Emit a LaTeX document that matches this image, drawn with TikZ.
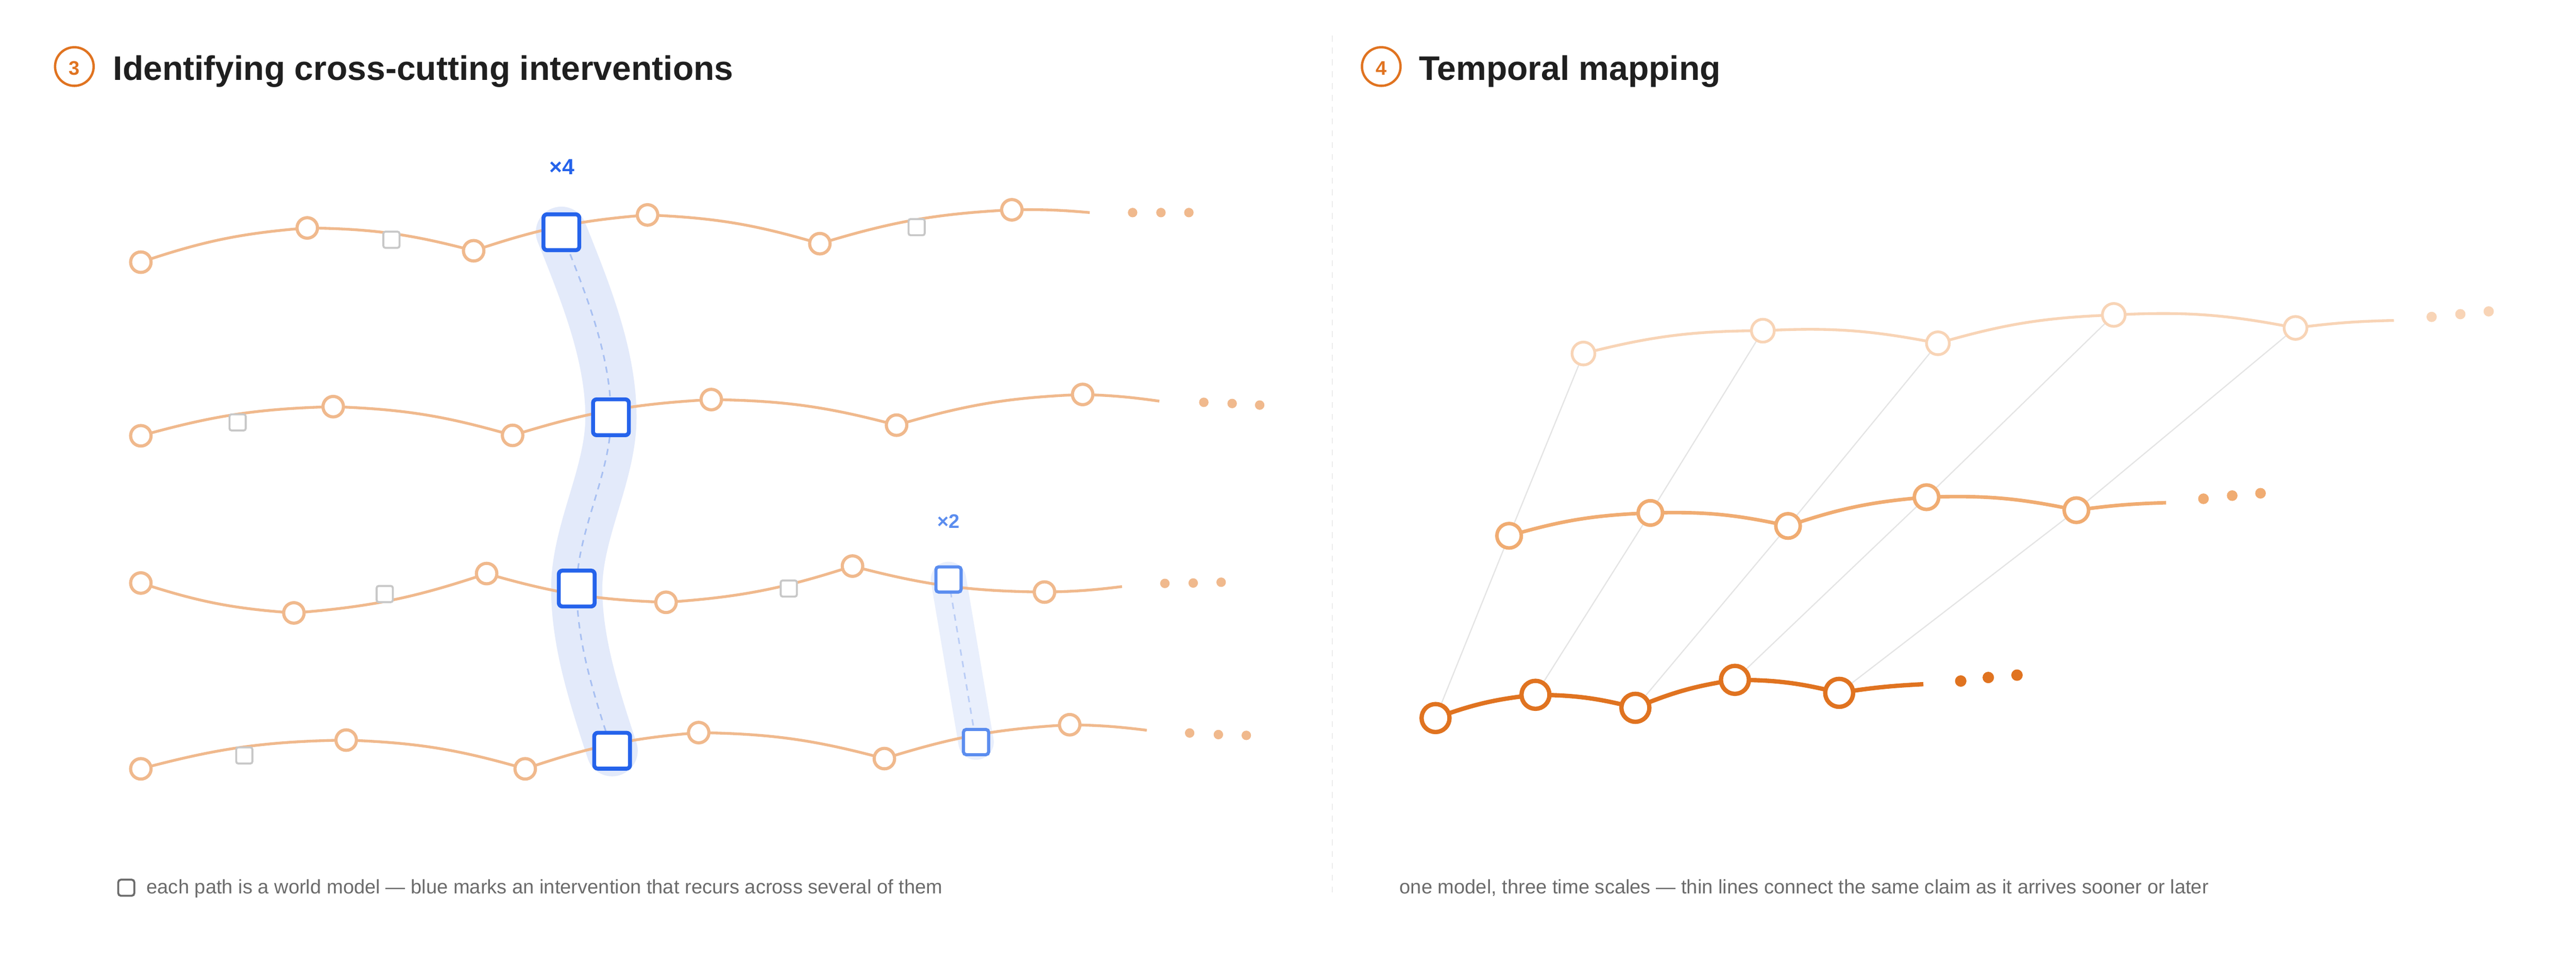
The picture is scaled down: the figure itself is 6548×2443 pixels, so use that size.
\documentclass[tikz,border=0pt]{standalone}
\usepackage{fontspec}
\setmainfont{Liberation Sans}
\pgfdeclarelayer{bg}
\pgfsetlayers{bg,main}
\definecolor{orL}{HTML}{F0B98D}
\definecolor{orT}{HTML}{F8D4B6}
\definecolor{orM}{HTML}{F0AC72}
\definecolor{orD}{HTML}{E07320}
\definecolor{blA}{HTML}{2563EB}
\definecolor{blB}{HTML}{5B8DEF}
\definecolor{bandA}{HTML}{E3EAFA}
\definecolor{bandB}{HTML}{E9EFFC}
\definecolor{dashA}{HTML}{A8C0F2}
\definecolor{dashB}{HTML}{BACDF6}
\definecolor{grS}{HTML}{C8C8C8}
\definecolor{txt}{HTML}{1F1F1F}
\definecolor{capc}{HTML}{6B6B6B}
\definecolor{sepc}{HTML}{ECECEC}
\definecolor{linkc}{HTML}{E4E4E4}
\begin{document}
\begin{tikzpicture}[x=0.01cm,y=-0.01cm,
  title/.style={anchor=base west, inner sep=0pt, text=txt, font=\fontsize{24.6}{30}\selectfont\bfseries},
  numring/.style={circle, draw=orD, line width=0.06cm, minimum size=0.98cm, inner sep=0pt},
  numtxt/.style={anchor=base, inner sep=0pt, text=orD, font=\fontsize{14.2}{17}\selectfont\bfseries},
  captxt/.style={anchor=base west, inner sep=0pt, text=capc, font=\fontsize{14.2}{17}\selectfont},
  oc/.style={circle, draw=orL, fill=white, line width=0.08cm, minimum size=0.52cm, inner sep=0pt},
  gs/.style={rectangle, rounded corners=0.05cm, draw=grS, fill=white, line width=0.05cm, minimum size=0.41cm, inner sep=0pt},
  bs/.style={rectangle, rounded corners=0.09cm, draw=blA, fill=white, line width=0.1cm, minimum size=0.91cm, inner sep=0pt},
  ls/.style={rectangle, rounded corners=0.07cm, draw=blB, fill=white, line width=0.08cm, minimum size=0.64cm, inner sep=0pt},
  od/.style={circle, fill=orL, minimum size=0.24cm, inner sep=0pt},
  lp/.style={draw=orL, line width=0.07cm},
  tc/.style={circle, draw=orT, fill=white, line width=0.07cm, minimum size=0.58cm, inner sep=0pt},
  mc/.style={circle, draw=orM, fill=white, line width=0.09cm, minimum size=0.62cm, inner sep=0pt},
  dc/.style={circle, draw=orD, fill=white, line width=0.11cm, minimum size=0.71cm, inner sep=0pt},
  tdot/.style={circle, fill=orT, minimum size=0.26cm, inner sep=0pt},
  mdot/.style={circle, fill=orM, minimum size=0.27cm, inner sep=0pt},
  ddot/.style={circle, fill=orD, minimum size=0.29cm, inner sep=0pt},
  link/.style={draw=linkc, line width=0.03cm},
  bandline/.style={line width=1.3cm, line cap=round, draw=bandA},
  bandline2/.style={line width=0.9cm, line cap=round, draw=bandB},
  dashline/.style={draw=dashA, line width=0.04cm, dash pattern=on 0.16cm off 0.14cm},
  dashline2/.style={draw=dashB, line width=0.04cm, dash pattern=on 0.16cm off 0.14cm},
  up/.style={bend left=7},
  dn/.style={bend right=7},
  upe/.style={bend left=3},
  dne/.style={bend right=3}
]
\begin{pgfonlayer}{bg}
\fill[white] (0,0) rectangle (6548,2443);
\end{pgfonlayer}
\useasboundingbox (0,0) rectangle (6548,2443);

% separator
\coordinate (sepT) at (3387,91);
\coordinate (sepB) at (3387,2270);
\draw[sepc, line width=0.03cm, dash pattern=on 0.15cm off 0.15cm] (sepT) -- (sepB);

% titles
\node[numring] (ring3) at (189,169) {};
\node[numtxt] (num3) at (189,190) {3};
\node[title] (title3) at (287,203) {Identifying cross-cutting interventions};
\node[numring] (ring4) at (3511,169) {};
\node[numtxt] (num4) at (3511,190) {4};
\node[title] (title4) at (3606,203) {Temporal mapping};

% ---------- left panel nodes ----------
% row 1
\node[oc] (a1) at (358,666) {};
\node[oc] (a2) at (781,579) {};
\node[gs] (ag1) at (995,609) {};
\node[oc] (a3) at (1204,637) {};
\node[bs] (aB) at (1427,590) {};
\node[oc] (a4) at (1646,546) {};
\node[oc] (a5) at (2084,619) {};
\node[gs] (ag2) at (2330,577) {};
\node[oc] (a6) at (2572,533) {};
\coordinate (aE) at (2770,540);
\node[od] (ad1) at (2879,540) {};
\node[od] (ad2) at (2951,540) {};
\node[od] (ad3) at (3022,540) {};
% row 2
\node[oc] (b1) at (358,1107) {};
\node[gs] (bg1) at (604,1073) {};
\node[oc] (b2) at (847,1033) {};
\node[oc] (b3) at (1303,1106) {};
\node[bs] (bB) at (1553,1060) {};
\node[oc] (b4) at (1808,1015) {};
\node[oc] (b5) at (2279,1080) {};
\node[oc] (b6) at (2752,1002) {};
\coordinate (bE) at (2947,1019);
\node[od] (bd1) at (3060,1022) {};
\node[od] (bd2) at (3132,1025) {};
\node[od] (bd3) at (3202,1029) {};
% row 3
\node[oc] (c1) at (358,1481) {};
\node[oc] (c2) at (747,1557) {};
\node[gs] (cg1) at (978,1509) {};
\node[oc] (c3) at (1237,1457) {};
\node[bs] (cB) at (1466,1495) {};
\node[oc] (c4) at (1693,1530) {};
\node[gs] (cg2) at (2005,1495) {};
\node[oc] (c5) at (2167,1438) {};
\node[ls] (cC) at (2411,1472) {};
\node[oc] (c6) at (2655,1504) {};
\coordinate (cE) at (2852,1490);
\node[od] (cd1) at (2961,1482) {};
\node[od] (cd2) at (3033,1481) {};
\node[od] (cd3) at (3104,1479) {};
% row 4
\node[oc] (d1) at (358,1953) {};
\node[gs] (dg1) at (621,1919) {};
\node[oc] (d2) at (880,1880) {};
\node[oc] (d3) at (1335,1953) {};
\node[bs] (dB) at (1556,1907) {};
\node[oc] (d4) at (1776,1861) {};
\node[oc] (d5) at (2248,1927) {};
\node[ls] (dC) at (2481,1885) {};
\node[oc] (d6) at (2719,1841) {};
\coordinate (dE) at (2915,1855);
\node[od] (dd1) at (3024,1862) {};
\node[od] (dd2) at (3097,1866) {};
\node[od] (dd3) at (3168,1868) {};

% labels
\node[anchor=base, inner sep=0pt, text=blA, font=\fontsize{15.9}{19}\selectfont\bfseries] (x4) at (1428,443) {×4};
\node[anchor=base, inner sep=0pt, text=blB, font=\fontsize{14.2}{17}\selectfont\bfseries] (x2) at (2411,1342) {×2};

\begin{pgfonlayer}{bg}
\draw[bandline] (aB.center) .. controls (1490,747) and (1553,903) .. (bB.center)
  .. controls (1553,1205) and (1466,1350) .. (cB.center)
  .. controls (1466,1632) and (1511,1770) .. (dB.center);
\draw[bandline2] (cC.center) -- (dC.center);
\draw[dashline] (aB.center) .. controls (1490,747) and (1553,903) .. (bB.center)
  .. controls (1553,1205) and (1466,1350) .. (cB.center)
  .. controls (1466,1632) and (1511,1770) .. (dB.center);
\draw[dashline2] (cC.center) -- (dC.center);
\draw[lp] (a1.center) to[up] (a2.center) to[up] (a3.center) to[up] (a4.center) to[up] (a5.center) to[up] (a6.center) to[upe] (aE);
\draw[lp] (b1.center) to[up] (b2.center) to[up] (b3.center) to[up] (b4.center) to[up] (b5.center) to[up] (b6.center) to[upe] (bE);
\draw[lp] (c1.center) to[dn] (c2.center) to[dn] (c3.center) to[dn] (c4.center) to[dn] (c5.center) to[dn] (c6.center) to[dne] (cE);
\draw[lp] (d1.center) to[up] (d2.center) to[up] (d3.center) to[up] (d4.center) to[up] (d5.center) to[up] (d6.center) to[upe] (dE);
\end{pgfonlayer}

% legend + captions
\node[rectangle, draw=capc, line width=0.05cm, rounded corners=0.07cm, minimum size=0.41cm, inner sep=0pt] (icon) at (321,2255) {};
\node[captxt] (capL) at (372,2270) {each path is a world model — blue marks an intervention that recurs across several of them};
\node[captxt] (capR) at (3557,2270) {one model, three time scales — thin lines connect the same claim as it arrives sooner or later};

% ---------- right panel ----------
\node[tc] (t1) at (4025,898) {};
\node[tc] (t2) at (4481,840) {};
\node[tc] (t3) at (4926,872) {};
\node[tc] (t4) at (5373,800) {};
\node[tc] (t5) at (5835,833) {};
\coordinate (tE) at (6085,814);
\node[tdot] (td1) at (6181,805) {};
\node[tdot] (td2) at (6254,798) {};
\node[tdot] (td3) at (6326,791) {};

\node[mc] (m1) at (3836,1361) {};
\node[mc] (m2) at (4195,1303) {};
\node[mc] (m3) at (4545,1336) {};
\node[mc] (m4) at (4897,1263) {};
\node[mc] (m5) at (5278,1296) {};
\coordinate (mE) at (5506,1277);
\node[mdot] (md1) at (5601,1267) {};
\node[mdot] (md2) at (5674,1259) {};
\node[mdot] (md3) at (5746,1253) {};

\node[dc] (n1) at (3649,1824) {};
\node[dc] (n2) at (3903,1765) {};
\node[dc] (n3) at (4157,1798) {};
\node[dc] (n4) at (4410,1727) {};
\node[dc] (n5) at (4675,1760) {};
\coordinate (nE) at (4889,1738);
\node[ddot] (nd1) at (4984,1730) {};
\node[ddot] (nd2) at (5054,1721) {};
\node[ddot] (nd3) at (5127,1715) {};

\begin{pgfonlayer}{bg}
\foreach \i in {1,...,5} {
  \draw[link] (n\i) -- (m\i);
  \draw[link] (m\i) -- (t\i);
}
\draw[draw=orT, line width=0.07cm] (t1.center) to[up] (t2.center) to[up] (t3.center) to[up] (t4.center) to[up] (t5.center) to[upe] (tE);
\draw[draw=orM, line width=0.09cm] (m1.center) to[up] (m2.center) to[up] (m3.center) to[up] (m4.center) to[up] (m5.center) to[upe] (mE);
\draw[draw=orD, line width=0.11cm] (n1.center) to[up] (n2.center) to[up] (n3.center) to[up] (n4.center) to[up] (n5.center) to[upe] (nE);
\end{pgfonlayer}
\end{tikzpicture}
\end{document}
